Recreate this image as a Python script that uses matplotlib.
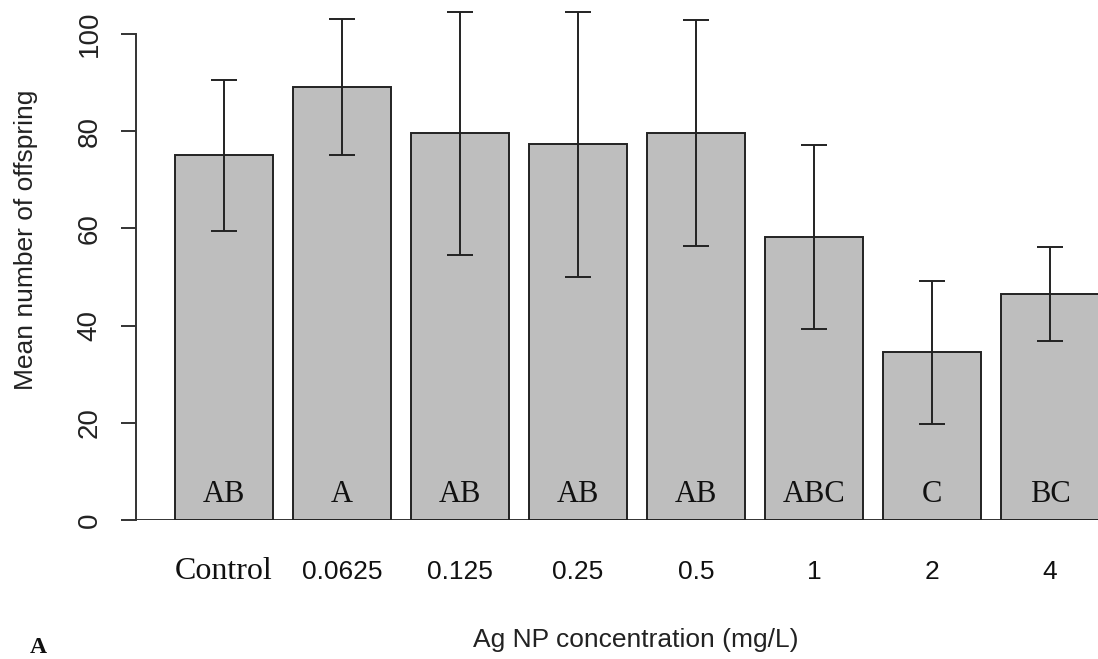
import numpy as np
import matplotlib
matplotlib.use("Agg")
import matplotlib.pyplot as plt

# data
groups = ["Control", "0.0625", "0.125", "0.25", "0.5", "1", "2", "4"]
means = np.array([75.0, 89.0, 79.6, 77.3, 79.6, 58.2, 34.5, 46.5])
errs = np.array([15.6, 14.0, 25.0, 27.2, 23.2, 19.0, 14.7, 9.6])
letters = ["AB", "A", "AB", "AB", "AB", "ABC", "C", "BC"]

W, H = 1098, 659
fig = plt.figure(figsize=(W / 100, H / 100), dpi=100)
# axes frame in pixels: y axis at x=136, y=0 at 520px
ax = fig.add_axes([136 / W, (H - 520) / H, (W - 136) / W, 520 / H])

x = np.arange(len(groups))
bar_w = 98 / 118
ax.bar(x, means, width=bar_w, color="#bebebe", edgecolor="#222222",
       linewidth=1.4, zorder=2)
ax.errorbar(x, means, yerr=errs, fmt="none", ecolor="#222222",
            elinewidth=1.4, capsize=9.4, capthick=1.4, zorder=3)

for xi, lab in zip(x, letters):
    ax.text(xi, 3.8, lab, ha="center", va="baseline", fontsize=22,
            family="Liberation Serif", color="#111111", zorder=4)

ax.set_xlim((136 - 224) / 118, (W - 224) / 118)
ax.set_ylim(0, 520 / 4.86)
ax.axhline(0, color="#333333", linewidth=1.4, zorder=1)

for s in ["top", "right", "bottom"]:
    ax.spines[s].set_visible(False)
ax.spines["left"].set_bounds(0, 100)
ax.spines["left"].set_color("#333333")
ax.spines["left"].set_linewidth(1.4)

ax.set_yticks([0, 20, 40, 60, 80, 100])
ax.tick_params(axis="y", length=11, width=1.4, color="#333333", pad=13)
for t in ax.get_yticklabels():
    t.set_rotation(90)
    t.set_va("center")
    t.set_family("Liberation Sans")
    t.set_fontsize(20)
    t.set_color("#222222")

ax.set_xticks(x)
ax.set_xticklabels(groups)
ax.tick_params(axis="x", length=0, pad=42.5)
for i, t in enumerate(ax.get_xticklabels()):
    t.set_va("baseline")
    if i == 0:
        t.set_family("Liberation Serif")
        t.set_fontsize(23)
    else:
        t.set_family("Liberation Sans")
        t.set_fontsize(19)
    t.set_color("#111111")

fig.text(26 / W, 1 - 240 / H, "Mean number of offspring", rotation=90,
         ha="center", va="center", fontsize=19, family="Liberation Sans",
         color="#222222")
fig.text(636 / W, 1 - 647 / H, "Ag NP concentration (mg/L)", ha="center",
         va="baseline", fontsize=19, family="Liberation Sans", color="#222222")
fig.text(38 / W, 1 - 653 / H, "A", ha="center", va="baseline", fontsize=17,
         family="Liberation Serif", weight="bold", color="#111111")

fig.savefig("out.png", dpi=100)
